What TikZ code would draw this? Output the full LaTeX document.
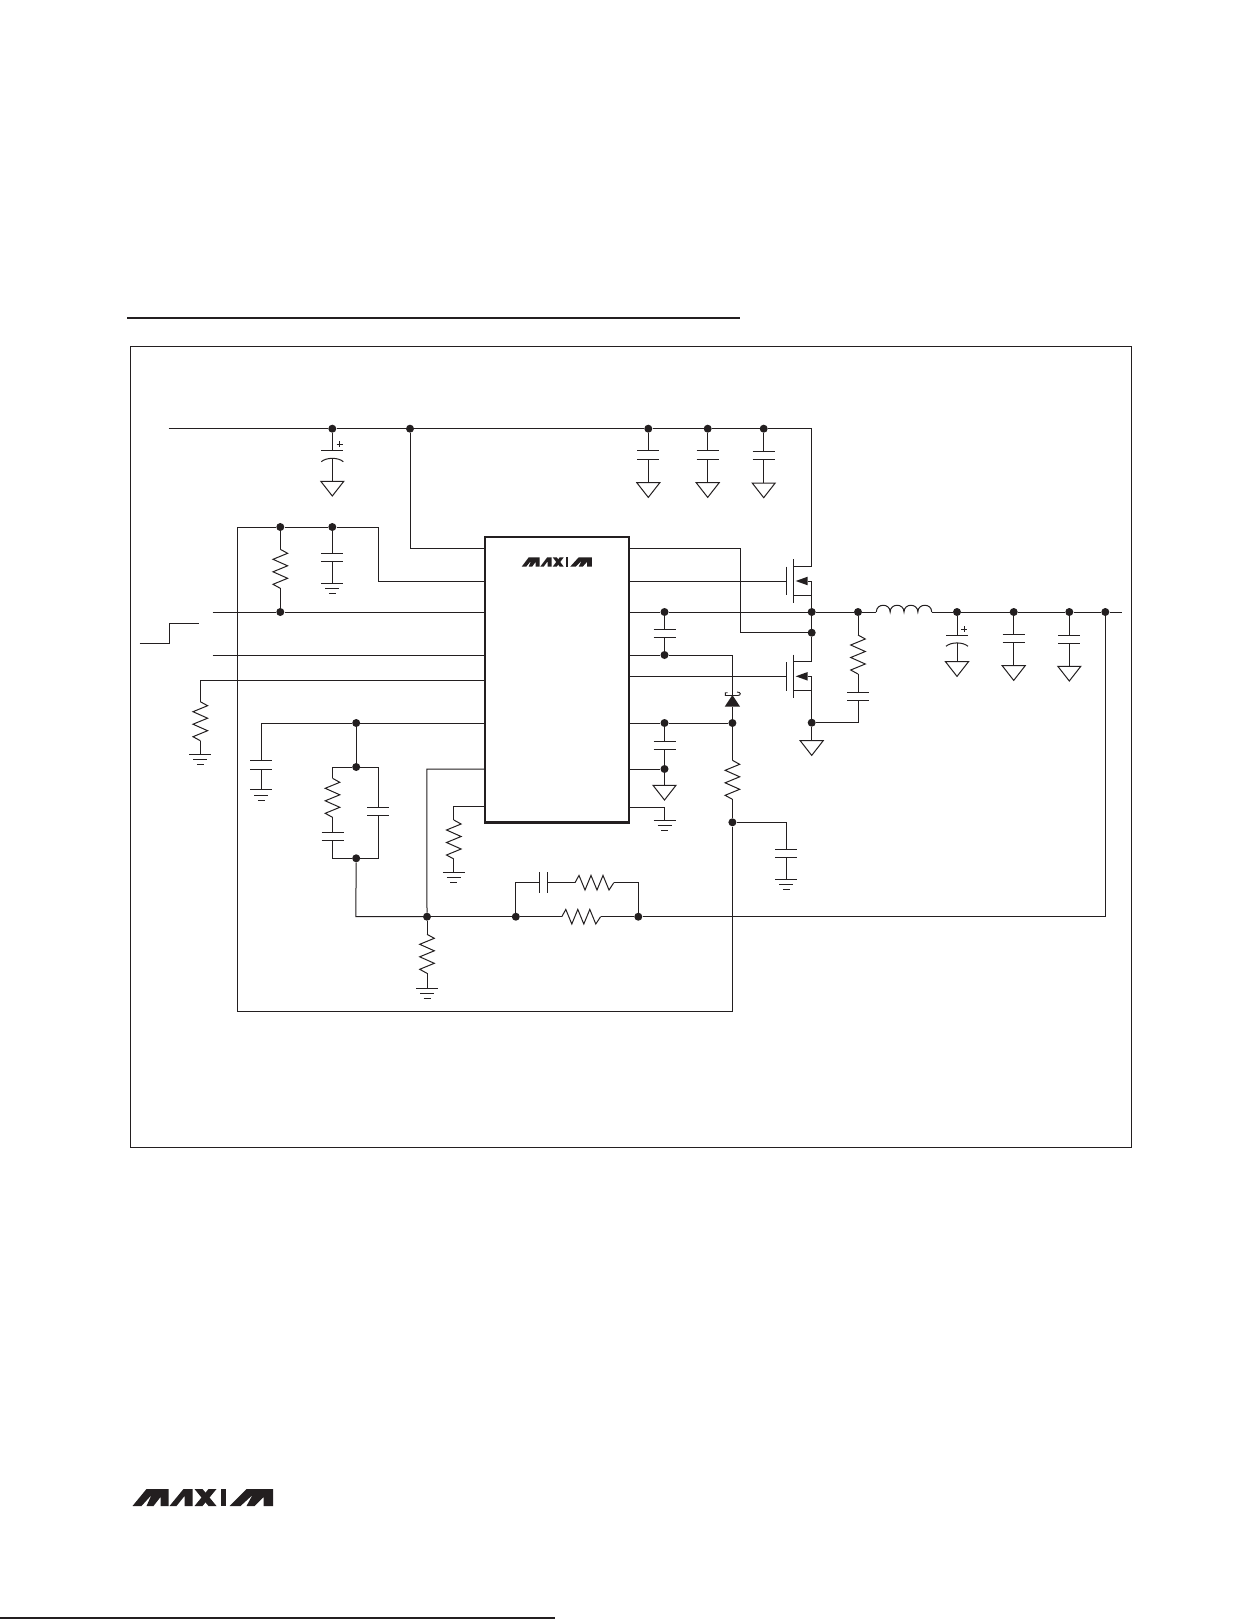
\documentclass[tikz,border=0pt]{standalone}
\definecolor{ink}{HTML}{231F20}
\tikzset{
  wire/.style={draw=ink,line width=1pt,line join=miter},
  frameline/.style={draw=ink,line width=1.2pt},
  jdot/.style={circle,fill=ink,inner sep=0pt,minimum size=8pt},
  chip/.style={draw=ink,line width=2.6pt,rectangle,inner sep=0pt,minimum width=144pt,minimum height=285.3pt},
  resv/.pic={
    \coordinate (-t) at (0,0); \coordinate (-b) at (0,39);
    \draw[wire] (0,0)--(7.3,4)--(-7.3,10)--(7.3,16.5)--(-7.3,22.5)--(7.3,29)--(-7.3,35)--(0,39);},
  resh/.pic={
    \coordinate (-l) at (0,0); \coordinate (-r) at (38.8,0);
    \draw[wire] (0,0)--(4,-7.3)--(10,7.3)--(16,-7.3)--(22,7.3)--(28,-7.3)--(34,7.3)--(38.8,0);},
  capv/.pic={
    \coordinate (-t) at (0,0); \coordinate (-b) at (0,8.3);
    \draw[wire] (-11,0)--(11,0) (-11,8.3)--(11,8.3);},
  caph/.pic={
    \coordinate (-l) at (0,0); \coordinate (-r) at (8.4,0);
    \draw[wire] (0,-10.7)--(0,10.7) (8.4,-10.7)--(8.4,10.7);},
  cappol/.pic={
    \coordinate (-t) at (0,0); \coordinate (-b) at (0,7.5);
    \draw[wire] (-11,0)--(11,0);
    \draw[wire] (-11,11) .. controls (-6,6.5) and (6,6.5) .. (11,11);
    \draw[wire,line width=.8pt] (4.3,-6.3)--(10.3,-6.3) (7.3,-9.3)--(7.3,-3.3);},
  gndl/.pic={
    \coordinate (-t) at (0,0);
    \draw[wire] (-11,0)--(11,0) (-7,5.3)--(7,5.3) (-3.5,10.5)--(3.5,10.5);},
  gndt/.pic={
    \coordinate (-t) at (0,0);
    \draw[wire] (-11.5,0)--(11.5,0)--(0,14.7)--cycle;},
  fet/.pic={
    \coordinate (-g) at (0,0); \coordinate (-d) at (25,-14.7); \coordinate (-s) at (25,14.3);
    \draw[wire] (0,-14.3)--(0,14.3) (7,-21.7)--(7,21.5);
    \draw[wire] (7,-14.7)--(25,-14.7) (7,14.3)--(25,14.3) (21,0)--(25,0)--(25,14.3);
    \fill[ink] (9,0)--(21,-4.3)--(21,4.3)--cycle;},
  maxlogo/.pic={
    \fill[ink] (0,17)--(14,0)--(36,0)--(36,17)--(28,17)--(28,8)--(21,17)--(14,17)--(19,6)--(9,17)--cycle;
    \fill[ink] (37,17)--(51,0)--(60,0)--(60,17)--(52,17)--(52,7)--(44,17)--cycle;
    \fill[ink] (62,0)--(70,0)--(84,17)--(76,17)--cycle;
    \fill[ink] (62,17)--(76,0)--(84,0)--(70,17)--cycle;
    \fill[ink] (88,0)--(93,0)--(93,17)--(88,17)--cycle;
    \fill[ink] (97,17)--(114,0)--(140.5,0)--(140.5,17)--(131,17)--(131,8)--(122,17)--(114,17)--(120,6)--(108,17)--cycle;}
}
\begin{document}
\begin{tikzpicture}[x=1pt,y=-1pt]
\fill[white] (0,0) rectangle (1259,1619);
\useasboundingbox (0,0) rectangle (1259,1619);

% page furniture
\draw[ink,line width=2.2pt] (127,317.7)--(740,317.7);
\draw[frameline] (130.3,346.7) rectangle (1131.3,1147.3);
\draw[ink,line width=1.5pt] (0,1618)--(555,1618);
\pic at (132.5,1489) {maxlogo};

% chip
\node[chip] (ic) at (557,679.65) {};
\pic[xscale=.5,yscale=.55] at (521.7,557.3) {maxlogo};

% junctions
\node[jdot] (d1) at (332.3,428.7) {};
\node[jdot] (d2) at (410,428.7) {};
\node[jdot] (d3) at (648.3,428.7) {};
\node[jdot] (d4) at (707.7,428.7) {};
\node[jdot] (d5) at (763.7,428.7) {};
\node[jdot] (e1) at (280.3,527) {};
\node[jdot] (e2) at (332.3,527) {};
\node[jdot] (e3) at (280.3,612) {};
\node[jdot] (f1) at (356.2,723) {};
\node[jdot] (f2) at (356.2,767) {};
\node[jdot] (f3) at (356.2,858.3) {};
\node[jdot] (g1) at (427,916.7) {};
\node[jdot] (g2) at (515.8,916.7) {};
\node[jdot] (g3) at (638.3,916.7) {};
\node[jdot] (h1) at (664.5,612) {};
\node[jdot] (h2) at (811.7,612) {};
\node[jdot] (h3) at (858,612) {};
\node[jdot] (h4) at (957,612) {};
\node[jdot] (h5) at (1013.7,612) {};
\node[jdot] (h6) at (1069.3,612) {};
\node[jdot] (h7) at (1105.3,612) {};
\node[jdot] (j1) at (811.7,632.7) {};
\node[jdot] (j2) at (664.5,655) {};
\node[jdot] (j3) at (664.5,723) {};
\node[jdot] (j4) at (732.4,723) {};
\node[jdot] (j5) at (664.5,769) {};
\node[jdot] (j6) at (732.4,822.3) {};
\node[jdot] (j7) at (811.7,722.7) {};

% free ends and corners
\coordinate (vin) at (168.7,428.7);
\coordinate (bstL) at (212.7,612);
\coordinate (enL) at (212.7,655);
\coordinate (outR) at (1122.3,612);
\coordinate (railTL) at (237.3,527);
\coordinate (railTR) at (378.7,527);
\coordinate (railBL) at (237.3,1011.7);
\coordinate (railBR) at (732.4,1011.7);
\coordinate (pL1) at (485,548.3);
\coordinate (pL2) at (485,581.3);
\coordinate (pL3) at (485,612);
\coordinate (pL4) at (485,655);
\coordinate (pL5) at (485,680);
\coordinate (pL6) at (485,723);
\coordinate (pL7) at (485,769);
\coordinate (pL8) at (485,806.3);
\coordinate (pR1) at (629,548.7);
\coordinate (pR2) at (629,581);
\coordinate (pR3) at (629,612);
\coordinate (pR4) at (629,655);
\coordinate (pR5) at (629,676.3);
\coordinate (pR6) at (629,723);
\coordinate (pR7) at (629,769);
\coordinate (pR8) at (629,807);
\coordinate (wL5) at (200.3,680);
\coordinate (wL6) at (261.3,723);
\coordinate (wL7) at (426.9,769);
\coordinate (wL8) at (453.8,806.3);
\coordinate (wR1) at (740.3,548.7);
\coordinate (wR1b) at (740.3,632.7);
\coordinate (wR4) at (732.4,655);
\coordinate (wR8) at (664.5,807);
\coordinate (w6) at (786.4,822.3);
\coordinate (boxL) at (332.5,767);
\coordinate (boxR) at (378,767);
\coordinate (boxBL) at (332.5,858.3);
\coordinate (boxBR) at (378,858.3);
\coordinate (fbC) at (355.8,916.7);
\coordinate (fb1) at (515.8,882.7);
\coordinate (fb2) at (638.3,882.7);
\coordinate (snb) at (858,722.7);
\coordinate (diodeTop) at (732.4,696);
\coordinate (diodeBase) at (732.4,706.7);

% components
\pic (ca) at (332.3,450.7) {cappol};
\pic (ga) at (332.3,481.3) {gndt};
\pic (cb) at (648.3,450.7) {capv};
\pic (gb) at (648.3,482.7) {gndt};
\pic (cc) at (707.7,450.7) {capv};
\pic (gc) at (707.7,482.7) {gndt};
\pic (cd) at (763.7,451) {capv};
\pic (gd) at (763.7,483) {gndt};
\pic (r1) at (280.3,549.3) {resv};
\pic (ce) at (332.3,553.3) {capv};
\pic (ge) at (332.3,583.3) {gndl};
\pic (r2) at (200.3,701.7) {resv};
\pic (g2l) at (200.3,754) {gndl};
\pic (cf) at (261.3,760.7) {capv};
\pic (gf) at (261.3,789.7) {gndl};
\pic (r3) at (332.5,778.3) {resv};
\pic (cg) at (332.5,832.3) {capv};
\pic (ch) at (378,807.3) {capv};
\pic (r4) at (453.8,820) {resv};
\pic (g4) at (453.8,872.3) {gndl};
\pic (r5) at (427,934.3) {resv};
\pic (g5) at (427,988.3) {gndl};
\pic (ci) at (539.2,882.7) {caph};
\pic (r6) at (575,882.7) {resh};
\pic (r7) at (561.8,916.7) {resh};
\pic (cj) at (664.5,629) {capv};
\pic (ck) at (664.5,741.5) {capv};
\pic (gk) at (664.5,785.3) {gndt};
\pic (gm) at (664.5,820.3) {gndl};
\pic (r8) at (732.4,760.3) {resv};
\pic (cl) at (786.4,849.3) {capv};
\pic (gl) at (786.4,879.3) {gndl};
\pic (q1) at (786.7,581) {fet};
\pic (q2) at (786.7,676.3) {fet};
\pic (r9) at (858,635) {resv};
\pic (cm) at (858,692.3) {capv};
\pic (gq) at (811.7,740.7) {gndt};
\pic (cn) at (957,635.3) {cappol};
\pic (gn) at (957,661.7) {gndt};
\pic (co) at (1013.7,634) {capv};
\pic (go) at (1013.7,665.7) {gndt};
\pic (cp) at (1069.3,635) {capv};
\pic (gp) at (1069.3,666.3) {gndt};

% input rail
\draw[wire] (vin)--(d1)--(d2)--(d3)--(d4)--(d5);
\draw[wire] (d5) -| (q1-d);
\draw[wire] (d1)--(ca-t) (ca-b)--(ga-t);
\draw[wire] (d2) |- (pL1);
\draw[wire] (d3)--(cb-t) (cb-b)--(gb-t);
\draw[wire] (d4)--(cc-t) (cc-b)--(gc-t);
\draw[wire] (d5)--(cd-t) (cd-b)--(gd-t);

% left side
\draw[wire] (railBR)--(railBL)--(railTL)--(e1)--(e2)--(railTR) |- (pL2);
\draw[wire] (e1)--(r1-t) (r1-b)--(e3);
\draw[wire] (e2)--(ce-t) (ce-b)--(ge-t);
\draw[wire] (bstL)--(e3)--(pL3);
\draw[wire] (enL)--(pL4);
\draw[wire] (pL5)--(wL5)--(r2-t) (r2-b)--(g2l-t);
\draw[wire] (139.7,643)--(169.7,643)--(169.7,623)--(198.7,623);
\draw[wire] (pL6)--(f1)--(wL6)--(cf-t) (cf-b)--(gf-t);
\draw[wire] (f1)--(f2);
\draw[wire] (r3-t)--(boxL)--(f2)--(boxR)--(ch-t);
\draw[wire] (r3-b)--(cg-t) (cg-b)--(boxBL)--(f3)--(boxBR)--(ch-b);
\draw[wire] (f3)--(fbC)--(g1);
\draw[wire] (pL7)--(wL7)--(g1);
\draw[wire] (pL8)--(wL8)--(r4-t) (r4-b)--(g4-t);
\draw[wire] (g1)--(r5-t) (r5-b)--(g5-t);

% feedback
\draw[wire] (g1)--(g2)--(r7-l) (r7-r)--(g3);
\draw[wire] (g2)--(fb1)--(ci-l) (ci-r)--(r6-l) (r6-r)--(fb2)--(g3);
\draw[wire] (g3) -| (h7);

% right side of chip
\draw[wire] (pR1)--(wR1)--(wR1b)--(j1);
\draw[wire] (pR2)--(q1-g);
\draw[wire] (pR3)--(h1)--(h2)--(h3)--(876.3,612);
\draw[wire] (876.3,612)
  .. controls +(0,-9) and +(0,-9) .. ++(13.85,0)
  .. controls +(0,-9) and +(0,-9) .. ++(13.85,0)
  .. controls +(0,-9) and +(0,-9) .. ++(13.85,0)
  .. controls +(0,-9) and +(0,-9) .. ++(13.85,0);
\draw[wire] (931.7,612)--(h4)--(h5)--(h6)--(h7)--(outR);
\draw[wire] (h1)--(cj-t) (cj-b)--(j2);
\draw[wire] (pR4)--(j2)--(wR4)--(diodeTop);
\draw[wire] (diodeBase)--(j4);
\fill[ink] (732.4,695)--(740.1,706.7)--(724.7,706.7)--cycle;
\draw[wire,line width=.9pt] (727.5,692.7)--(725.3,692.7)--(725.3,695.5)--(738,695.5)
  .. controls (741,695.5) and (741.5,692) .. (737,692);
\draw[wire] (pR5)--(q2-g);
\draw[wire] (pR6)--(j3)--(j4);
\draw[wire] (j3)--(ck-t) (ck-b)--(j5);
\draw[wire] (pR7)--(j5)--(gk-t);
\draw[wire] (pR8)--(wR8)--(gm-t);
\draw[wire] (j4)--(r8-t) (r8-b)--(j6)--(railBR);
\draw[wire] (j6)--(w6)--(cl-t) (cl-b)--(gl-t);

% switch node
\draw[wire] (q1-s)--(h2)--(j1)--(q2-d);
\draw[wire] (q2-s)--(j7)--(gq-t);
\draw[wire] (j7)--(snb)--(cm-b) (cm-t)--(r9-b) (r9-t)--(h3);

% output caps
\draw[wire] (h4)--(cn-t) (cn-b)--(gn-t);
\draw[wire] (h5)--(co-t) (co-b)--(go-t);
\draw[wire] (h6)--(cp-t) (cp-b)--(gp-t);
\end{tikzpicture}
\end{document}
